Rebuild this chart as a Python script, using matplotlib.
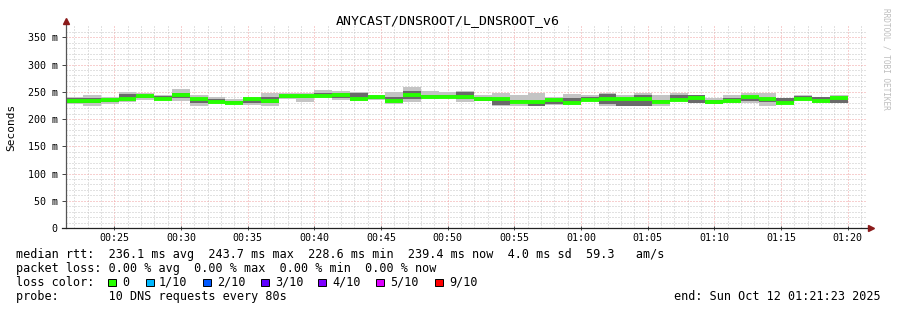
import numpy as np
import matplotlib.pyplot as plt
from matplotlib.patches import Rectangle


# ── Data ──────────────────────────────────────────────────────────────────────

TITLE      = "ANYCAST/DNSROOT/L_DNSROOT_v6"
STEP_START = 21 + 20 / 60        # first 80 s step, minutes after midnight
STEP_MIN   = 80 / 60
VIEW_START = 21 + 23 / 60        # 00:21:23
VIEW_END   = 81 + 23 / 60        # 01:21:23

# median rtt per step (ms)
median = [232.5, 232.5, 235.5, 237.0, 242.6, 237.0, 243.5, 236.7, 231.8, 228.6,
          236.3, 233.0, 241.8, 241.8, 241.8, 243.5, 237.0, 240.0, 232.7, 243.5,
          241.0, 241.0, 239.8, 236.0, 236.0, 231.8, 231.8, 235.5, 228.8, 235.5,
          236.0, 236.0, 236.0, 231.8, 235.8, 239.5, 231.8, 234.0, 239.8, 236.0,
          228.8, 236.0, 233.0, 239.4]

# smoke: full spread of the pings
outer_lo = [228, 224, 228, 232, 235, 236, 234, 224, 228, 228,
            226, 224, 237, 231, 238, 235, 234, 235, 228, 232,
            236, 238, 232, 233, 224, 224, 224, 226, 226, 235,
            224, 224, 224, 224, 235, 229, 228, 230, 229, 224,
            227, 235, 229, 229]
outer_hi = [241, 244, 240, 250, 247, 245, 255, 244, 240, 237,
            240, 248, 247, 247, 253, 252, 249, 244, 250, 258,
            251, 250, 251, 244, 247, 244, 248, 241, 246, 244,
            248, 244, 248, 244, 248, 244, 238, 244, 247, 247,
            238, 244, 241, 244]

# smoke: inner (denser) part of the pings
inner_lo = [230, 230, 231, 235, 238, 237, 238, 230, 229, 228,
            229, 229, 239, 238, 240, 238, 235, 236, 232, 237,
            238, 239, 236, 234, 226, 229, 224, 228, 232, 236,
            228, 224, 224, 229, 236, 229, 228, 233, 233, 232,
            231, 237, 231, 229]
inner_hi = [238, 238, 237, 246, 244, 243, 247, 238, 236, 234,
            238, 240, 245, 244, 248, 247, 247, 242, 241, 251,
            244, 245, 249, 241, 236, 235, 232, 235, 238, 241,
            246, 238, 244, 235, 244, 244, 235, 238, 243, 238,
            238, 242, 241, 238]

X_TICKS  = [25, 30, 35, 40, 45, 50, 55, 60, 65, 70, 75, 80]
X_LABELS = ["00:25", "00:30", "00:35", "00:40", "00:45", "00:50",
            "00:55", "01:00", "01:05", "01:10", "01:15", "01:20"]
Y_TICKS  = [0, 50, 100, 150, 200, 250, 300, 350]
Y_LABELS = ["0", "50 m", "100 m", "150 m", "200 m", "250 m", "300 m", "350 m"]

LOSS_LABELS = ["0", "1/10", "2/10", "3/10", "4/10", "5/10", "9/10"]
LOSS_COLORS = ["#26ff00", "#00b8ff", "#0059ff", "#5e00ff",
               "#7e00ff", "#dd00ff", "#ff0000"]

STATS_LINE = ("median rtt:  236.1 ms avg  243.7 ms max  228.6 ms min  "
              "239.4 ms now  4.0 ms sd  59.3   am/s")
LOSS_LINE  = "packet loss: 0.00 % avg  0.00 % max  0.00 % min  0.00 % now"
PROBE_LINE = "probe:       10 DNS requests every 80s"
END_LINE   = "end: Sun Oct 12 01:21:23 2025"


# ── Figure ────────────────────────────────────────────────────────────────────

W, H = 897, 310
MONO = "DejaVu Sans Mono"

fig = plt.figure(figsize=(W / 100, H / 100), dpi=100)
fig.patch.set_facecolor("white")

# plot area in pixels: x 66..866, y 228 (0 ms) up to 26.4 (370 ms)
ax = fig.add_axes([66 / W, (H - 228) / H, 800 / W, (228 - 26.4) / H])
ax.set_xlim(VIEW_START, VIEW_END)
ax.set_ylim(0, 370)


def px(x, y):
    """pixel position -> figure fraction"""
    return x / W, 1 - y / H


# smoke + median
n      = len(median)
left   = STEP_START + STEP_MIN * np.arange(n)
o_lo   = np.array(outer_lo)
i_lo   = np.array(inner_lo)

ax.bar(left, np.array(outer_hi) - o_lo, bottom=o_lo, width=STEP_MIN,
       align="edge", color="#c4c4c4", linewidth=0, zorder=2)
ax.bar(left, np.array(inner_hi) - i_lo, bottom=i_lo, width=STEP_MIN,
       align="edge", color="#6a6a6a", linewidth=0, zorder=3)
ax.hlines(median, left, left + STEP_MIN, colors=LOSS_COLORS[0],
          linewidth=2.8, zorder=4)

# grid (1 px on, 2 px off)
dot = (0, (1, 2))
for m in np.arange(22, 82):
    major = m % 5 == 0
    ax.axvline(m, color="#f0a0a0" if major else "#c4c4c4",
               lw=0.72, ls=dot, zorder=1)
for v in np.arange(10, 370, 10):
    major = v % 50 == 0
    ax.axhline(v, color="#f0a0a0" if major else "#c4c4c4",
               lw=0.72, ls=dot, zorder=1)

# axes, ticks
for s in ax.spines.values():
    s.set_visible(False)
ax.plot([0, 0], [0, 1.02], transform=ax.transAxes, color="#555555",
        lw=0.9, clip_on=False, zorder=5)
ax.plot([-0.005, 1.005], [0, 0], transform=ax.transAxes, color="#222222",
        lw=0.9, clip_on=False, zorder=5)
ax.plot([0], [1.025], marker="^", ms=4, color="#8b1a1a",
        transform=ax.transAxes, clip_on=False, zorder=6)
ax.plot([1.006], [0], marker=">", ms=4, color="#8b1a1a",
        transform=ax.transAxes, clip_on=False, zorder=6)

ax.set_xticks(X_TICKS)
ax.set_xticklabels(X_LABELS, family=MONO, fontsize=7.2)
ax.set_yticks(Y_TICKS)
ax.set_yticklabels(Y_LABELS, family=MONO, fontsize=7.2)
ax.tick_params(axis="x", length=3, width=0.7, color="#444444",
               direction="inout", pad=2)
ax.tick_params(axis="y", length=3, width=0.7, color="#444444",
               direction="out", pad=3)

# titles
fig.text(*px(448, 24), TITLE, family=MONO, fontsize=9.5,
         ha="center", va="baseline")
fig.text(*px(11, 127), "Seconds", family=MONO, fontsize=8,
         rotation=90, ha="center", va="center")
fig.text(*px(886, 59), "RRDTOOL / TOBI OETIKER", family=MONO, fontsize=5.6,
         color="#bdbdbd", rotation=270, ha="center", va="center")

# legend
fig.text(*px(16, 257.7), STATS_LINE, family=MONO, fontsize=8.5, va="baseline")
fig.text(*px(16, 271.7), LOSS_LINE, family=MONO, fontsize=8.5, va="baseline")
fig.text(*px(16, 285.7), "loss color:", family=MONO, fontsize=8.5,
         va="baseline")
fig.text(*px(16, 299.7), PROBE_LINE, family=MONO, fontsize=8.5, va="baseline")
fig.text(*px(881, 299.7), END_LINE, family=MONO, fontsize=8.5,
         ha="right", va="baseline")

sq_x  = [108, 146, 203, 261, 318, 376, 435]
lab_x = [122, 159, 217, 275, 332, 390, 449]
for sx, lx, lab, col in zip(sq_x, lab_x, LOSS_LABELS, LOSS_COLORS):
    x0, y0 = px(sx, 286)
    fig.patches.append(Rectangle((x0, y0), 7.5 / W, 7.5 / H, facecolor=col,
                                 edgecolor="black", linewidth=0.7,
                                 transform=fig.transFigure, figure=fig))
    fig.text(*px(lx, 285.7), lab, family=MONO, fontsize=8.5, va="baseline")

fig.savefig("out.png", dpi=100, facecolor="white")
